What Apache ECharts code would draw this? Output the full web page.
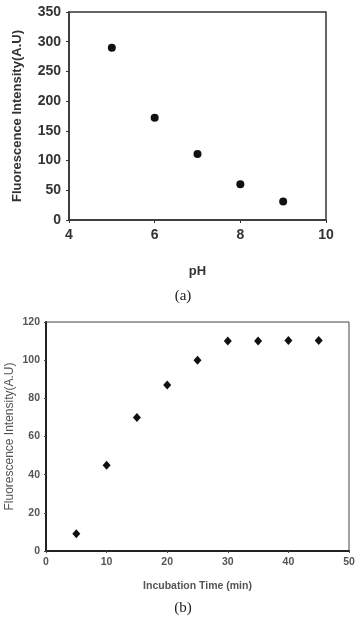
<!DOCTYPE html>
<html>
<head>
<meta charset="utf-8">
<script src="https://cdn.jsdelivr.net/npm/echarts@6/dist/echarts.min.js"></script>
<style>
  html, body { margin: 0; padding: 0; background: #fff; }
  #chart { width: 357px; height: 619px; }
</style>
</head>
<body>
<div id="chart"></div>
<script>
// (a) fluorescence vs pH
var phValues = [5, 6, 7, 8, 9];
var phIntensity = [290, 172, 111, 60, 31];

// (b) fluorescence vs incubation time
var timeValues = [5, 10, 15, 20, 25, 30, 35, 40, 45];
var timeIntensity = [9, 45, 70, 87, 100, 110, 110, 110.3, 110.3];

var axisName = 'Fluorescence Intensity(A.U)';

var chartDom = document.getElementById('chart');
var myChart = echarts.init(chartDom);

var pairs = function (xs, ys) {
    return xs.map(function (x, i) { return [x, ys[i]]; });
};

var option = {
    animation: false,
    backgroundColor: '#fff',
    title: [
        { text: '(a)', left: 178, top: 284, textAlign: 'center',
          textStyle: { fontFamily: 'Liberation Serif', fontWeight: 'normal', fontSize: 15, color: '#222' } },
        { text: '(b)', left: 178, top: 596, textAlign: 'center',
          textStyle: { fontFamily: 'Liberation Serif', fontWeight: 'normal', fontSize: 15, color: '#222' } }
    ],
    grid: [
        { left: 69, top: 12, width: 257, height: 208, show: true, borderColor: '#333', borderWidth: 1.5,
          backgroundColor: 'transparent', outerBoundsMode: 'none', containLabel: false },
        { left: 46, top: 322, width: 303, height: 229, show: true, borderColor: '#444', borderWidth: 1,
          backgroundColor: 'transparent', outerBoundsMode: 'none', containLabel: false }
    ],
    xAxis: [
        {
            gridIndex: 0, type: 'value', min: 4, max: 10, interval: 2,
            name: 'pH', nameLocation: 'middle', nameGap: 45, nameMoveOverlap: false,
            nameTextStyle: { fontFamily: 'Liberation Sans', fontWeight: 'bold', fontSize: 13, color: '#333' },
            axisLine: { lineStyle: { color: '#333', width: 1.5 } },
            axisTick: { length: 3, lineStyle: { color: '#333' } },
            splitLine: { show: false },
            axisLabel: { margin: 8, fontFamily: 'Liberation Sans', fontWeight: 'bold', fontSize: 14, color: '#333' }
        },
        {
            gridIndex: 1, type: 'value', min: 0, max: 50, interval: 10,
            name: 'Incubation Time (min)', nameLocation: 'middle', nameGap: 30, nameMoveOverlap: false,
            nameTextStyle: { fontFamily: 'Liberation Sans', fontWeight: 'bold', fontSize: 10.5, color: '#555' },
            axisLine: { lineStyle: { color: '#222', width: 2 } },
            axisTick: { length: 2, lineStyle: { color: '#444' } },
            splitLine: { show: false },
            axisLabel: { margin: 6, fontFamily: 'Liberation Sans', fontWeight: 'bold', fontSize: 10.5, color: '#555' }
        }
    ],
    yAxis: [
        {
            gridIndex: 0, type: 'value', min: 0, max: 350, interval: 50,
            name: axisName, nameLocation: 'middle', nameGap: 45, nameMoveOverlap: false,
            nameTextStyle: { fontFamily: 'Liberation Sans', fontWeight: 'bold', fontSize: 13, color: '#333' },
            axisLine: { show: true, lineStyle: { color: '#333', width: 1.5 } },
            axisTick: { show: true, length: 3, lineStyle: { color: '#333' } },
            splitLine: { show: false },
            axisLabel: { margin: 8, fontFamily: 'Liberation Sans', fontWeight: 'bold', fontSize: 14, color: '#333' }
        },
        {
            gridIndex: 1, type: 'value', min: 0, max: 120, interval: 20,
            name: axisName, nameLocation: 'middle', nameGap: 30, nameMoveOverlap: false,
            nameTextStyle: { fontFamily: 'Liberation Sans', fontSize: 12, color: '#555' },
            axisLine: { show: true, lineStyle: { color: '#222', width: 2 } },
            axisTick: { show: true, length: 2, lineStyle: { color: '#444' } },
            splitLine: { show: false },
            axisLabel: { margin: 6, fontFamily: 'Liberation Sans', fontWeight: 'bold', fontSize: 10.5, color: '#555' }
        }
    ],
    series: [
        {
            type: 'scatter', xAxisIndex: 0, yAxisIndex: 0,
            symbol: 'circle', symbolSize: 8,
            itemStyle: { color: '#111', opacity: 1 },
            data: pairs(phValues, phIntensity)
        },
        {
            type: 'scatter', xAxisIndex: 1, yAxisIndex: 1,
            symbol: 'diamond', symbolSize: [8, 9],
            itemStyle: { color: '#111', opacity: 1 },
            data: pairs(timeValues, timeIntensity)
        }
    ]
};

myChart.setOption(option);
</script>
</body>
</html>
